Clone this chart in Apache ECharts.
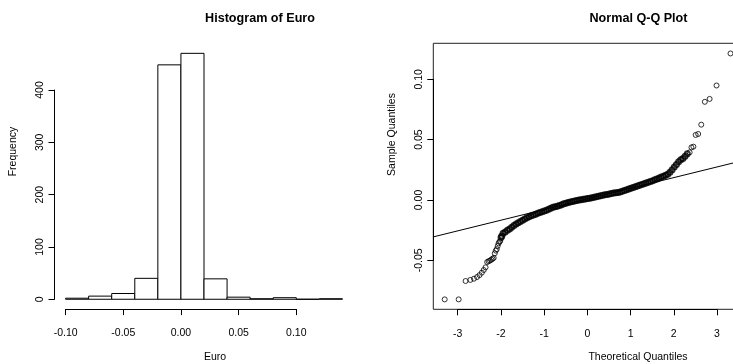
<!DOCTYPE html>
<html>
<head>
<meta charset="utf-8">
<script src="https://cdn.jsdelivr.net/npm/echarts@6/dist/echarts.min.js"></script>
<style>
  html, body { margin: 0; padding: 0; background: #fff; }
  #chart { width: 733px; height: 364px; }
</style>
</head>
<body>
<div id="chart"></div>
<script>
// histogram: bin edges and counts
var histBreaks = [-0.10, -0.08, -0.06, -0.04, -0.02, 0.00, 0.02, 0.04, 0.06, 0.08, 0.10, 0.12, 0.14];
var histCounts = [2, 6, 11, 40, 448, 470, 39, 4, 1, 3, 0, 1];
var histXTicks = [-0.10, -0.05, 0.00, 0.05, 0.10];
var histYTicks = [0, 100, 200, 300, 400];

// normal Q-Q plot (theoretical, sample)
var qqTheo = [
  -3.297, -2.975, -2.815, -2.705, -2.622, -2.551, -2.493, -2.441, -2.396, -2.354,
  -2.317, -2.283, -2.251, -2.221, -2.193, -2.167, -2.142, -2.118, -2.096, -2.074,
  -2.054, -2.035, -2.016, -1.997, -1.979,
  -1.95, -1.90, -1.85, -1.80, -1.75, -1.70, -1.65, -1.60, -1.55, -1.50,
  -1.45, -1.40, -1.35, -1.30, -1.25, -1.20, -1.15, -1.10, -1.05, -1.00,
  -0.95, -0.90, -0.85, -0.80, -0.75, -0.70, -0.65, -0.60, -0.55, -0.50,
  -0.45, -0.40, -0.35, -0.30, -0.25, -0.20, -0.15, -0.10, -0.05, 0.00,
  0.05, 0.10, 0.15, 0.20, 0.25, 0.30, 0.35, 0.40, 0.45, 0.50,
  0.55, 0.60, 0.65, 0.70, 0.75, 0.80, 0.85, 0.90, 0.95, 1.00,
  1.05, 1.10, 1.15, 1.20, 1.25, 1.30, 1.35, 1.40, 1.45, 1.50,
  1.55, 1.60, 1.65, 1.70, 1.75, 1.80, 1.85, 1.90, 1.95, 2.00,
  2.05, 2.10, 2.15, 2.20, 2.25, 2.30,
  2.354, 2.396, 2.441, 2.493, 2.551, 2.622, 2.705, 2.815, 2.975, 3.297
];
var qqSample = [
  -0.0821, -0.0821, -0.0669, -0.0660, -0.0650, -0.0636, -0.0620, -0.0600, -0.0578, -0.0556,
  -0.0512, -0.0505, -0.0500, -0.0492, -0.0485, -0.0478, -0.0440, -0.0418, -0.0405, -0.0379,
  -0.0357, -0.0345, -0.0338, -0.0310, -0.0296,
  -0.0274, -0.0263, -0.0250, -0.0239, -0.0225, -0.0210, -0.0198, -0.0187, -0.0176, -0.0166,
  -0.0156, -0.0146, -0.0138, -0.0130, -0.0123, -0.0116, -0.0109, -0.0103, -0.0097, -0.0091,
  -0.0083, -0.0075, -0.0067, -0.0060, -0.0055, -0.0050, -0.0044, -0.0038, -0.0031, -0.0026,
  -0.0020, -0.0015, -0.0011, -0.0007, -0.0003, 0.0000, 0.0004, 0.0007, 0.0010, 0.0013,
  0.0016, 0.0020, 0.0024, 0.0028, 0.0032, 0.0036, 0.0040, 0.0044, 0.0047, 0.0051,
  0.0054, 0.0058, 0.0061, 0.0064, 0.0068, 0.0073, 0.0079, 0.0086, 0.0092, 0.0098,
  0.0104, 0.0111, 0.0117, 0.0122, 0.0129, 0.0135, 0.0141, 0.0148, 0.0155, 0.0161,
  0.0168, 0.0175, 0.0183, 0.0191, 0.0198, 0.0206, 0.0214, 0.0230, 0.0252, 0.0273,
  0.0295, 0.0318, 0.0333, 0.0345, 0.0362, 0.0383,
  0.0395, 0.0436, 0.0442, 0.0539, 0.0547, 0.0624, 0.0813, 0.0837, 0.0948, 0.1213
];
// qqline ends
var qqLineX = [-3.56, 3.56];
var qqLineY = [-0.0304, 0.0325];
var qqXTicks = [-3, -2, -1, 0, 1, 2, 3];
var qqYTicks = [-0.05, 0.00, 0.05, 0.10];
// where the points pile up into a solid band
var qqBandFrom = -2.0, qqBandTo = 2.31;

var FONT = '"Liberation Sans", Arial, Helvetica, sans-serif';

function step(t) { return +(t[1] - t[0]).toFixed(6); }

function shownAxis(ticks, dec, rot) {
  return {
    type: 'value',
    min: ticks[0],
    max: ticks[ticks.length - 1],
    interval: step(ticks),
    axisLine: { show: true, lineStyle: { color: '#000', width: 1 } },
    axisTick: { show: true, inside: false, length: 6, lineStyle: { color: '#000', width: 1 } },
    splitLine: { show: false },
    axisLabel: {
      color: '#000', fontSize: 10.5, fontFamily: FONT,
      margin: rot ? 9 : 19, rotate: rot || 0,
      formatter: function (v) { return dec ? v.toFixed(dec) : String(Math.round(v)); }
    }
  };
}
function hiddenAxis(min, max) {
  return { type: 'value', show: false, min: min, max: max, splitLine: { show: false } };
}

var histData = histCounts.map(function (c, i) { return [histBreaks[i], histBreaks[i + 1], c]; });
var qqData = qqTheo.map(function (x, i) {
  var inBand = x >= qqBandFrom && x <= qqBandTo;
  return { value: [x, qqSample[i]], itemStyle: { borderWidth: inBand ? 2 : 1 } };
});
var lineData = qqLineX.map(function (x, i) { return [x, qqLineY[i]]; });

var chart = echarts.init(document.getElementById('chart'), null, { renderer: 'canvas' });

var option = {
  animation: false,
  backgroundColor: '#fff',
  grid: [
    // histogram plot region
    { left: 54.5, right: 379.5, top: 43.5, bottom: 54.9, outerBoundsMode: 'none' },
    // histogram x axis span
    { left: 65.6, right: 436.7, top: 43.5, bottom: 54.9, outerBoundsMode: 'none' },
    // histogram y axis span
    { left: 54.5, right: 379.5, top: 90.0, bottom: 64.7, outerBoundsMode: 'none' },
    // qq plot region (box)
    { left: 433.3, right: -8.9, top: 43.3, bottom: 54.7, show: true, borderColor: '#222', borderWidth: 1, outerBoundsMode: 'none' },
    // qq x axis span
    { left: 457.7, right: 16.0, top: 43.3, bottom: 54.7, outerBoundsMode: 'none' },
    // qq y axis span
    { left: 433.3, right: -8.9, top: 79.3, bottom: 103.7, outerBoundsMode: 'none' }
  ],
  xAxis: [
    Object.assign(hiddenAxis(-0.1096, 0.1496), { gridIndex: 0 }),
    Object.assign(shownAxis(histXTicks, 2), { gridIndex: 1, position: 'bottom' }),
    Object.assign(hiddenAxis(0, 1), { gridIndex: 2 }),
    Object.assign(hiddenAxis(-3.56, 3.56), { gridIndex: 3 }),
    Object.assign(shownAxis(qqXTicks, 0), { gridIndex: 4, position: 'bottom' }),
    Object.assign(hiddenAxis(0, 1), { gridIndex: 5 })
  ],
  yAxis: [
    Object.assign(hiddenAxis(-18.8, 488.8), { gridIndex: 0 }),
    Object.assign(hiddenAxis(0, 1), { gridIndex: 1 }),
    Object.assign(shownAxis(histYTicks, 0, 90), { gridIndex: 2, position: 'left' }),
    Object.assign(hiddenAxis(-0.0903, 0.1297), { gridIndex: 3 }),
    Object.assign(hiddenAxis(0, 1), { gridIndex: 4 }),
    Object.assign(shownAxis(qqYTicks, 2, 90), { gridIndex: 5, position: 'left' })
  ],
  graphic: [
    { type: 'text', x: 260, y: 19, style: { text: 'Histogram of Euro', font: 'bold 12.6px ' + FONT, fill: '#000', align: 'center', verticalAlign: 'middle' } },
    { type: 'text', x: 638.5, y: 19, style: { text: 'Normal Q-Q Plot', font: 'bold 12.6px ' + FONT, fill: '#000', align: 'center', verticalAlign: 'middle' } },
    { type: 'text', x: 215, y: 357, style: { text: 'Euro', font: '10.5px ' + FONT, fill: '#000', align: 'center', verticalAlign: 'middle' } },
    { type: 'text', x: 638, y: 357, style: { text: 'Theoretical Quantiles', font: '10.5px ' + FONT, fill: '#000', align: 'center', verticalAlign: 'middle' } },
    { type: 'text', x: 13, y: 151.5, rotation: Math.PI / 2, style: { text: 'Frequency', font: '10.5px ' + FONT, fill: '#000', align: 'center', verticalAlign: 'middle' } },
    { type: 'text', x: 392, y: 134.5, rotation: Math.PI / 2, style: { text: 'Sample Quantiles', font: '10.5px ' + FONT, fill: '#000', align: 'center', verticalAlign: 'middle' } }
  ],
  series: [
    {
      type: 'custom',
      xAxisIndex: 0, yAxisIndex: 0,
      encode: { x: [0, 1], y: 2 },
      data: histData,
      renderItem: function (params, api) {
        var p0 = api.coord([api.value(0), api.value(2)]);
        var p1 = api.coord([api.value(1), 0]);
        return {
          type: 'rect',
          shape: { x: p0[0], y: p0[1], width: p1[0] - p0[0], height: p1[1] - p0[1] },
          style: { fill: '#fff', stroke: '#000', lineWidth: 1 }
        };
      }
    },
    {
      type: 'line',
      xAxisIndex: 3, yAxisIndex: 3,
      data: lineData,
      showSymbol: false,
      clip: true,
      lineStyle: { color: '#000', width: 1 },
      z: 1
    },
    {
      type: 'scatter',
      xAxisIndex: 3, yAxisIndex: 3,
      data: qqData,
      symbol: 'circle',
      symbolSize: 5,
      clip: true,
      itemStyle: { color: 'rgba(0,0,0,0)', borderColor: '#000', borderWidth: 1 },
      z: 2
    }
  ]
};

chart.setOption(option);
</script>
</body>
</html>
